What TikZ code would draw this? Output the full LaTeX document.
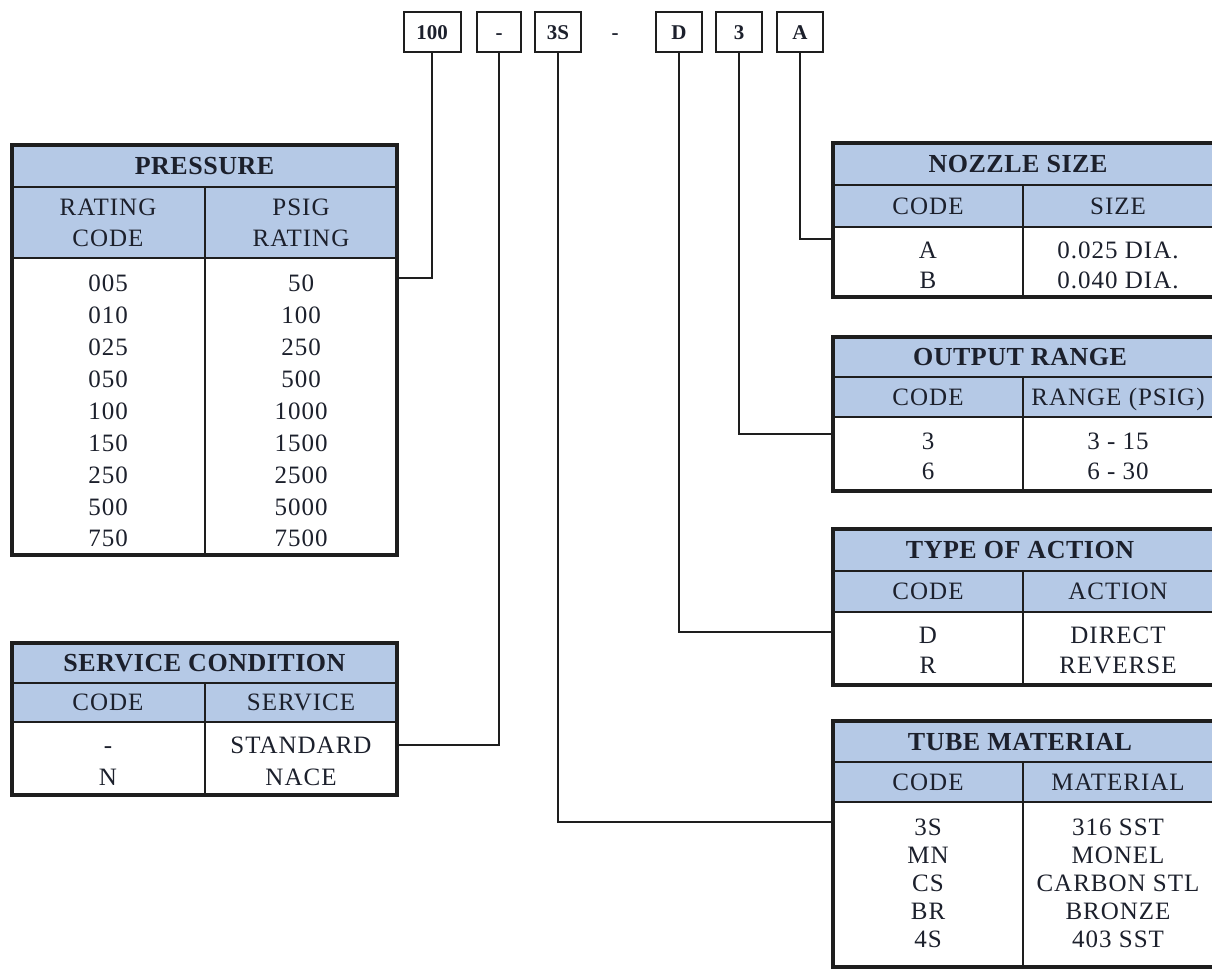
\documentclass[tikz,border=0pt]{standalone}
\usepackage{fontspec}
\setmainfont{Liberation Serif}
\newfontfamily\cellfont[LetterSpace=4]{Liberation Serif}
\newfontfamily\ttlfont[LetterSpace=2]{Liberation Serif}
\usetikzlibrary{fit}
\definecolor{hdrblue}{RGB}{181,201,230}
\definecolor{ink}{RGB}{28,32,44}
\definecolor{linec}{RGB}{30,30,30}
\tikzset{
  hdr/.style={fill=hdrblue},
  innerline/.style={draw=linec, line width=2.2pt},
  outerbox/.style={draw=linec, line width=4pt, inner sep=0pt, fit={#1}},
  conn/.style={draw=linec, line width=2pt},
  codebox/.style={draw=linec, line width=2pt, minimum width=46pt, minimum height=40pt, inner sep=0pt, text height=14pt, text depth=0pt, text=ink, font=\fontsize{21}{24}\selectfont\bfseries},
  cell/.style={inner sep=0pt, text height=16.5pt, text depth=0pt, text=ink, font=\cellfont\fontsize{25}{30}\selectfont},
  ttl/.style={inner sep=0pt, text height=17pt, text depth=0pt, text=ink, font=\ttlfont\fontsize{26}{30}\selectfont\bfseries},
}
\newcommand\mytable[8]{%
  \fill[hdr] (#2,#3) rectangle (#4,#7);
  \draw[innerline] (#2,#6) -- (#4,#6);
  \draw[innerline] (#2,#7) -- (#4,#7);
  \draw[innerline] (#8,#6) -- (#8,#5);
  \node[outerbox={(#2,#3) (#4,#5)}] (#1) {};
}
\begin{document}
\begin{tikzpicture}[x=1pt,y=-1pt]
\useasboundingbox (0,0) rectangle (1212,970);
\clip (0,0) rectangle (1212,970);
\fill[white] (0,0) rectangle (1212,970);

% code boxes
\node[codebox, minimum width=57pt] (b100) at (432,32) {100};
\node[codebox, minimum width=44pt] (bdash) at (499,32) {-};
\node[codebox] (b3S) at (558,32) {3S};
\node[inner sep=0pt, text height=14pt, text depth=0pt, text=ink, font=\fontsize{21}{24}\selectfont\bfseries] (sep) at (615,32) {-};
\node[codebox] (bD) at (679,32) {D};
\node[codebox] (b3) at (739,32) {3};
\node[codebox] (bA) at (800,32) {A};

% PRESSURE
\mytable{press}{12}{145}{397}{555}{187}{258}{205}
\node[ttl] (pt) at (204.5,166) {PRESSURE};
\node[cell] (ph1) at (108,207) {RATING};
\node[cell] (ph2) at (108,238) {CODE};
\node[cell] (ph3) at (301,207) {PSIG};
\node[cell] (ph4) at (301,238) {RATING};
\foreach \c/\v [count=\i from 0] in {005/50,010/100,025/250,050/500,100/1000,150/1500,250/2500,500/5000,750/7500}{
  \node[cell] (pc\i) at (108,283.5+31.9*\i) {\c};
  \node[cell] (pv\i) at (301,283.5+31.9*\i) {\v};
}

% SERVICE CONDITION
\mytable{serv}{12}{643}{397}{795}{683}{722}{205}
\node[ttl] (st) at (204.5,663) {SERVICE CONDITION};
\node[cell] (sh1) at (108,702) {CODE};
\node[cell] (sh2) at (301,702) {SERVICE};
\node[cell] (sc1) at (108,745) {-};
\node[cell] (sv1) at (301,745) {STANDARD};
\node[cell] (sc2) at (108,777) {N};
\node[cell] (sv2) at (301,777) {NACE};

% NOZZLE SIZE
\mytable{noz}{833}{143}{1216}{297}{185}{227}{1023}
\node[ttl] (nt) at (1018,164) {NOZZLE SIZE};
\node[cell] (nh1) at (928,206) {CODE};
\node[cell] (nh2) at (1118,206) {SIZE};
\node[cell] (nc1) at (928,250) {A};
\node[cell] (nv1) at (1118,250) {0.025 DIA.};
\node[cell] (nc2) at (928,280) {B};
\node[cell] (nv2) at (1118,280) {0.040 DIA.};

% OUTPUT RANGE
\mytable{outr}{833}{337}{1216}{491}{377}{417}{1023}
\node[ttl] (ot) at (1020,357) {OUTPUT RANGE};
\node[cell] (oh1) at (928,397) {CODE};
\node[cell] (oh2) at (1118,397) {RANGE (PSIG)};
\node[cell] (oc1) at (928,441) {3};
\node[cell] (ov1) at (1118,441) {3 - 15};
\node[cell] (oc2) at (928,471) {6};
\node[cell] (ov2) at (1118,471) {6 - 30};

% TYPE OF ACTION
\mytable{act}{833}{529}{1216}{685}{571}{612}{1023}
\node[ttl] (at) at (1020,550) {TYPE OF ACTION};
\node[cell] (ah1) at (928,591) {CODE};
\node[cell] (ah2) at (1118,591) {ACTION};
\node[cell] (ac1) at (928,635) {D};
\node[cell] (av1) at (1118,635) {DIRECT};
\node[cell] (ac2) at (928,665) {R};
\node[cell] (av2) at (1118,665) {REVERSE};

% TUBE MATERIAL
\mytable{tube}{833}{721}{1216}{967}{762}{802}{1023}
\node[ttl] (tt) at (1020,742) {TUBE MATERIAL};
\node[cell] (th1) at (928,782) {CODE};
\node[cell] (th2) at (1118,782) {MATERIAL};
\foreach \c/\v [count=\i from 0] in {3S/316 SST,MN/MONEL,CS/CARBON STL,BR/BRONZE,4S/403 SST}{
  \node[cell] (tc\i) at (928,827+28*\i) {\c};
  \node[cell] (tv\i) at (1118,827+28*\i) {\v};
}

% connector end points on the table edges
\coordinate (pinP) at (397,278);
\coordinate (pinS) at (397,745);
\coordinate (pinT) at (833,822);
\coordinate (pinD) at (833,632);
\coordinate (pinO) at (833,434);
\coordinate (pinN) at (833,239);

\draw[conn] (b100.south) |- (pinP);
\draw[conn] (bdash.south) |- (pinS);
\draw[conn] (b3S.south) |- (pinT);
\draw[conn] (bD.south) |- (pinD);
\draw[conn] (b3.south) |- (pinO);
\draw[conn] (bA.south) |- (pinN);
\end{tikzpicture}
\end{document}
